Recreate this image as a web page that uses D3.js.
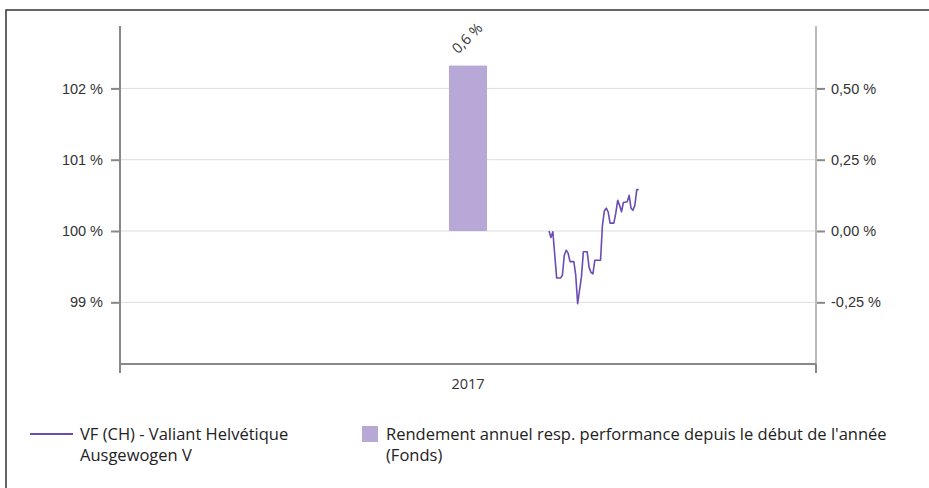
<!DOCTYPE html>
<meta charset="utf-8">
<head>
  <style>
    body { margin: 0; background: #fff; }
    svg { display: block; font-family: "Open Sans", sans-serif; }
    .tick text { fill: #333; font-size: 14.5px; }
    .grid line { stroke: #ddd; stroke-width: 1px; }
    .legend text { fill: #222; font-size: 16.5px; }
  </style>
</head>
<body>
  <script src="https://d3js.org/d3.v7.min.js"></script>
  <div id="chart"></div>
  <script>
    var width = 929,
      height = 488;

    // yearly return bar (Fonds)
    var years = ["2017"];
    var yearReturn = [0.58];
    var yearLabels = ["0,6 %"];

    // fund price, indexed to 100
    var lineDates = ["2017-08-14", "2017-08-15", "2017-08-16", "2017-08-18", "2017-08-20", "2017-08-21",
      "2017-08-22", "2017-08-23", "2017-08-24", "2017-08-25", "2017-08-27", "2017-08-28", "2017-08-29",
      "2017-08-31", "2017-09-01", "2017-09-03", "2017-09-04", "2017-09-05", "2017-09-06", "2017-09-07",
      "2017-09-10", "2017-09-11", "2017-09-12", "2017-09-13", "2017-09-14", "2017-09-15", "2017-09-17",
      "2017-09-18", "2017-09-19", "2017-09-20", "2017-09-21", "2017-09-22", "2017-09-24", "2017-09-25",
      "2017-09-26", "2017-09-27", "2017-09-28", "2017-09-29", "2017-09-30"];
    var lineValues = [100.00, 99.91, 99.99, 99.34, 99.34, 99.38,
      99.66, 99.73, 99.69, 99.57, 99.57, 99.38, 98.98,
      99.36, 99.71, 99.71, 99.49, 99.42, 99.40, 99.59,
      99.59, 100.08, 100.28, 100.32, 100.27, 100.11, 100.11,
      100.25, 100.43, 100.36, 100.27, 100.40, 100.41, 100.50,
      100.32, 100.29, 100.36, 100.58, 100.58];

    var leftTicks = [99, 100, 101, 102];
    var rightTicks = [-0.25, 0, 0.25, 0.5];

    var lineName = ["VF (CH) - Valiant Helvétique", "Ausgewogen V"];
    var barName = ["Rendement annuel resp. performance depuis le début de l'année", "(Fonds)"];

    var margin = { left: 120, right: 113, top: 26, bottom: 124 };
    var x0 = margin.left, x1 = width - margin.right;
    var y0 = margin.top, y1 = height - margin.bottom;

    var svg = d3.select('#chart')
      .append('svg')
      .attr('width', width)
      .attr('height', height);

    // frame
    svg.append('rect')
      .attr('x', 6).attr('y', 10)
      .attr('width', width + 20).attr('height', height + 20)
      .attr('fill', 'none').attr('stroke', '#333').attr('stroke-width', 1.5);

    var xTime = d3.scaleUtc()
      .domain([new Date("2017-01-01"), new Date("2018-01-01")])
      .range([x0, x1]);
    var xBand = d3.scaleBand().domain(years).range([x0, x1]);

    var yLeft = d3.scaleLinear().domain([98.135, 102.875]).range([y1, y0]);
    var yRight = d3.scaleLinear().domain([-0.4663, 0.7188]).range([y1, y0]);

    // grid
    svg.append('g').attr('class', 'grid')
      .selectAll('line').data(leftTicks).enter().append('line')
      .attr('x1', x0).attr('x2', x1)
      .attr('y1', d => yLeft(d)).attr('y2', d => yLeft(d));

    // bar
    var barW = 38;
    svg.append('g').selectAll('rect')
      .data(years).enter().append('rect')
      .attr('x', d => xBand(d) + xBand.bandwidth() / 2 - barW / 2)
      .attr('width', barW)
      .attr('y', (d, i) => yRight(yearReturn[i]))
      .attr('height', (d, i) => yRight(0) - yRight(yearReturn[i]))
      .attr('fill', '#b8a8d7');

    svg.append('g').selectAll('text')
      .data(years).enter().append('text')
      .attr('transform', (d, i) => 'translate(' + (xBand(d) + xBand.bandwidth() / 2 - 10) + ',' + (yRight(yearReturn[i]) - 11) + ') rotate(-45)')
      .attr('font-size', 14.5).attr('fill', '#333')
      .text((d, i) => yearLabels[i]);

    // line
    var line = d3.line()
      .x((d, i) => xTime(new Date(lineDates[i])))
      .y(d => yLeft(d));
    svg.append('path')
      .datum(lineValues)
      .attr('d', line)
      .attr('fill', 'none')
      .attr('stroke', '#6a4db3')
      .attr('stroke-width', 1.6)
      .attr('stroke-linejoin', 'round');

    // left axis
    var gl = svg.append('g')
      .attr('transform', 'translate(' + x0 + ',0)')
      .call(d3.axisLeft(yLeft).tickValues(leftTicks).tickSize(9).tickPadding(8)
        .tickFormat(d => d + ' %'));
    gl.select('.domain').remove();
    gl.selectAll('.tick line').attr('stroke', '#888').attr('stroke-width', 2);
    svg.append('line').attr('x1', x0).attr('x2', x0).attr('y1', y0).attr('y2', y1)
      .attr('stroke', '#888').attr('stroke-width', 2);

    // right axis
    var gr = svg.append('g')
      .attr('transform', 'translate(' + x1 + ',0)')
      .call(d3.axisRight(yRight).tickValues(rightTicks).tickSize(9).tickPadding(6)
        .tickFormat(d => d3.format('.2f')(d).replace('.', ',').replace('−', '-') + ' %'));
    gr.select('.domain').remove();
    gr.selectAll('.tick line').attr('stroke', '#888').attr('stroke-width', 2);
    svg.append('line').attr('x1', x1).attr('x2', x1).attr('y1', y0).attr('y2', y1)
      .attr('stroke', '#bbb').attr('stroke-width', 2);

    // bottom axis
    svg.append('line').attr('x1', x0).attr('x2', x1).attr('y1', y1).attr('y2', y1)
      .attr('stroke', '#888').attr('stroke-width', 2);
    svg.append('g').selectAll('line')
      .data(xTime.domain()).enter().append('line')
      .attr('x1', d => xTime(d)).attr('x2', d => xTime(d))
      .attr('y1', y1).attr('y2', y1 + 9)
      .attr('stroke', '#888').attr('stroke-width', 2);
    svg.append('g').selectAll('text')
      .data(years).enter().append('text')
      .attr('x', d => xBand(d) + xBand.bandwidth() / 2)
      .attr('y', y1 + 25)
      .attr('text-anchor', 'middle')
      .attr('font-size', 14.5).attr('fill', '#333')
      .text(d => d);

    // legend
    var lg = svg.append('g').attr('class', 'legend');
    lg.append('line').attr('x1', 30).attr('x2', 73).attr('y1', 434).attr('y2', 434)
      .attr('stroke', '#6a4db3').attr('stroke-width', 2);
    lg.selectAll('text.l1').data(lineName).enter().append('text')
      .attr('x', 80).attr('y', (d, i) => 440 + i * 21).text(d => d);
    lg.append('rect').attr('x', 362).attr('y', 426).attr('width', 16).attr('height', 16)
      .attr('fill', '#b8a8d7');
    lg.selectAll('text.l2').data(barName).enter().append('text')
      .attr('x', 386).attr('y', (d, i) => 440 + i * 21).text(d => d);
  </script>
</body>
